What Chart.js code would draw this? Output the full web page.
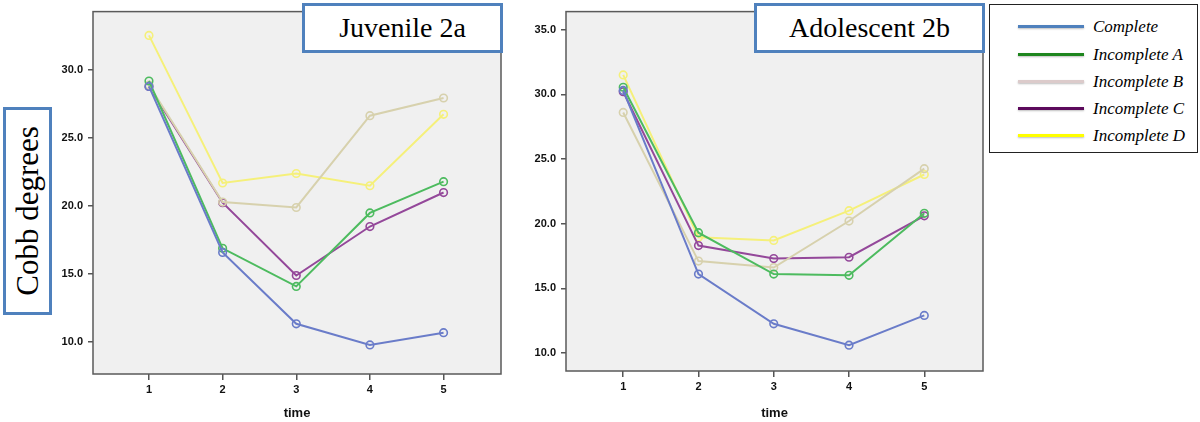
<!DOCTYPE html>
<html>
<head>
<meta charset="utf-8">
<script src="https://cdn.jsdelivr.net/npm/chart.js@4.4.1/dist/chart.umd.min.js"></script>
<style>
  body { margin: 0; background: #fff; }
  #wrap { position: relative; width: 1200px; height: 422px; overflow: hidden; }
  canvas { position: absolute; top: 0; }
  .box { position: absolute; background: #fff; border: 3px solid #4f81bd; box-sizing: border-box;
         font-family: "Liberation Serif", "DejaVu Serif", serif; color: #000;
         display: flex; align-items: center; justify-content: center; }
  #legend { position: absolute; left: 989px; top: 4px; width: 209px; height: 149px; box-sizing: border-box;
            border: 1.5px solid #222; background: #fff; }
  .row { position: absolute; left: 0; height: 20px; width: 100%; }
  .row span.line { position: absolute; left: 28px; top: 8px; width: 66px; height: 3px; }
  .row span.txt { position: absolute; left: 103px; top: 0; font: italic 17px "Liberation Serif", serif; line-height: 20px; }
</style>
</head>
<body>
<div id="wrap">
  <canvas id="juv" width="530" height="422" style="left:0"></canvas>
  <canvas id="ado" width="470" height="422" style="left:530px"></canvas>
  <div class="box" style="left:302px;top:3px;width:201px;height:50px;font-size:28px">Juvenile 2a</div>
  <div class="box" style="left:754px;top:3px;width:231px;height:50px;font-size:28px">Adolescent 2b</div>
  <div class="box" style="left:3px;top:107px;width:49px;height:208px">
    <div style="transform:rotate(-90deg);white-space:nowrap;font-size:31px">Cobb degrees</div>
  </div>
  <div id="legend"></div>
</div>
<script>
var timePoints = [1, 2, 3, 4, 5];
var seriesNames = ['Complete', 'Incomplete A', 'Incomplete B', 'Incomplete C', 'Incomplete D'];

// Juvenile 2a
var juvComplete    = [28.8, 16.6, 11.35, 9.8, 10.7];
var juvIncompleteA = [29.2, 16.9, 14.1, 19.5, 21.8];
var juvIncompleteB = [28.9, 20.3, 19.9, 26.65, 27.95];
var juvIncompleteC = [28.8, 20.25, 14.9, 18.5, 21.0];
var juvIncompleteD = [32.55, 21.7, 22.4, 21.5, 26.75];

// Adolescent 2b
var adoComplete    = [30.3, 16.1, 12.25, 10.6, 12.9];
var adoIncompleteA = [30.55, 19.3, 16.1, 16.0, 20.8];
var adoIncompleteB = [28.6, 17.1, 16.6, 20.2, 24.25];
var adoIncompleteC = [30.2, 18.3, 17.3, 17.4, 20.6];
var adoIncompleteD = [31.5, 18.95, 18.7, 21.0, 23.8];

var juvYTicks = [10, 15, 20, 25, 30];
var adoYTicks = [10, 15, 20, 25, 30, 35];

var lineColors = ['#6a7cc9', '#4dbb5f', '#d7d1ad', '#94489a', '#f5f07a'];
var legendColors = ['#4f81bd', '#1e861e', '#dccbcb', '#5c0a5c', '#ffff00'];

function makeSets(arrays) {
  return arrays.map(function (vals, i) {
    return {
      label: seriesNames[i],
      data: vals.map(function (v, j) { return { x: timePoints[j], y: v }; }),
      borderColor: lineColors[i],
      backgroundColor: 'transparent',
      pointBorderColor: lineColors[i],
      pointBackgroundColor: 'transparent',
      pointRadius: 3.8,
      pointBorderWidth: 1.6,
      borderWidth: 2
    };
  });
}

var plotFrame = {
  id: 'plotFrame',
  beforeDatasetsDraw: function (chart) {
    var a = chart.chartArea, c = chart.ctx;
    c.save();
    c.fillStyle = '#f0f0f0';
    c.fillRect(a.left, a.top, a.right - a.left, a.bottom - a.top);
    c.restore();
  },
  afterDraw: function (chart) {
    var a = chart.chartArea, c = chart.ctx;
    c.save();
    c.strokeStyle = '#5a5a5a';
    c.lineWidth = 1.5;
    c.strokeRect(a.left, a.top, a.right - a.left, a.bottom - a.top);
    c.restore();
  }
};

function panel(id, arrays, cfg) {
  new Chart(document.getElementById(id).getContext('2d'), {
    type: 'line',
    data: { datasets: makeSets(arrays) },
    plugins: [plotFrame],
    options: {
      responsive: false,
      animation: false,
      layout: { padding: { left: 0, top: cfg.top, right: cfg.right, bottom: 0 } },
      plugins: { legend: { display: false }, tooltip: { enabled: false } },
      scales: {
        x: {
          type: 'linear',
          min: 0.24, max: 5.78,
          afterBuildTicks: function (s) { s.ticks = timePoints.map(function (v) { return { value: v }; }); },
          afterFit: function (s) { s.height = cfg.xHeight; },
          ticks: { color: '#111', padding: 3, font: { family: 'Liberation Sans', size: 11, weight: 'bold' },
                   callback: function (v) { return v; } },
          grid: { drawOnChartArea: false, tickLength: 6, color: '#555', lineWidth: 1.5 },
          border: { display: false },
          title: { display: true, text: 'time', color: '#111', padding: { top: 0, bottom: 1 },
                   font: { family: 'Liberation Sans', size: 13, weight: 'bold' } }
        },
        y: {
          min: cfg.yMin, max: cfg.yMax,
          afterBuildTicks: function (s) { s.ticks = cfg.yTicks.map(function (v) { return { value: v }; }); },
          afterFit: function (s) { s.width = cfg.yWidth; },
          ticks: { color: '#111', padding: 5, font: { family: 'Liberation Sans', size: 11, weight: 'bold' },
                   callback: function (v) { return Number(v).toFixed(1); } },
          grid: { drawOnChartArea: false, tickLength: 5, color: '#555', lineWidth: 1.5 },
          border: { display: false }
        }
      }
    }
  });
}

panel('juv', [juvComplete, juvIncompleteA, juvIncompleteB, juvIncompleteC, juvIncompleteD],
      { top: 9, right: 29, xHeight: 48, yWidth: 93, yMin: 7.66, yMax: 34.3, yTicks: juvYTicks });
panel('ado', [adoComplete, adoIncompleteA, adoIncompleteB, adoIncompleteC, adoIncompleteD],
      { top: 6, right: 17, xHeight: 51, yWidth: 36, yMin: 8.6, yMax: 36.4, yTicks: adoYTicks });

// legend box
var leg = document.getElementById('legend');
var rowTops = [12, 40, 67, 94, 121];
seriesNames.forEach(function (name, i) {
  var r = document.createElement('div');
  r.className = 'row';
  r.style.top = rowTops[i] + 'px';
  r.innerHTML = '<span class="line" style="background:' + legendColors[i] + ';box-shadow:0 1px 2px rgba(0,0,0,0.25)"></span>' +
                '<span class="txt">' + name + '</span>';
  leg.appendChild(r);
});
</script>
</body>
</html>
